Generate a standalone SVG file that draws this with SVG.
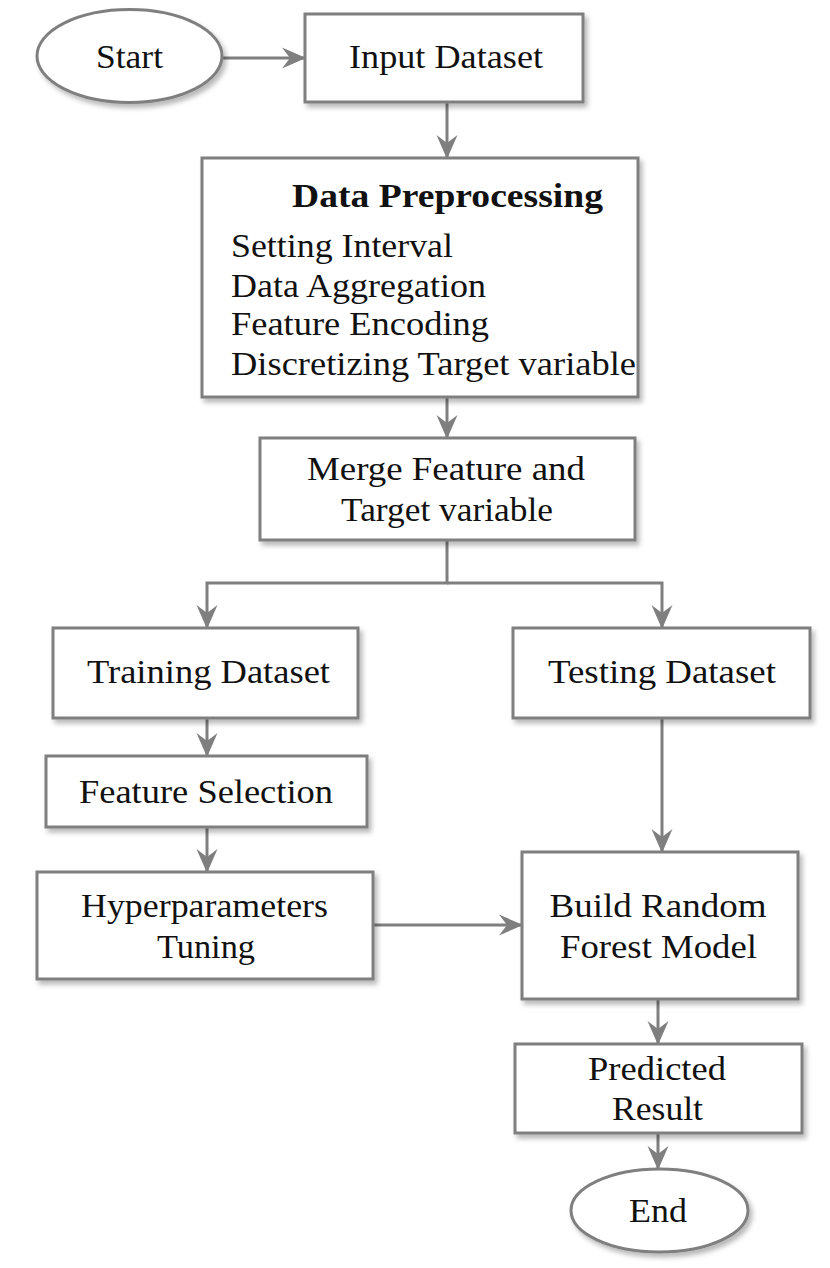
<svg xmlns="http://www.w3.org/2000/svg" width="830" height="1268" viewBox="0 0 830 1268">
<defs>
<filter id="sh" x="-10%" y="-10%" width="125%" height="130%">
<feDropShadow dx="3" dy="4" stdDeviation="2.5" flood-color="#000" flood-opacity="0.28"/>
</filter>
<marker id="ah" markerUnits="userSpaceOnUse" viewBox="0 0 24 24" refX="23" refY="12" markerWidth="24" markerHeight="24" orient="auto">
<path d="M0,1.5 L24,12 L0,22.5 L8,12 z" fill="#7f7f7f"/>
</marker>
<style>
.box{fill:#fff;stroke:#7f7f7f;stroke-width:3;filter:url(#sh)}
.t{font-family:"Liberation Serif","Times New Roman",serif;font-size:33px;fill:#111}
.c{text-anchor:middle}
.b{font-weight:bold}
.con{fill:none;stroke:#7f7f7f;stroke-width:3;marker-end:url(#ah)}
</style>
</defs>
<rect width="830" height="1268" fill="#fff"/>

<g id="connectors">
<path class="con" d="M222,58 H305"/>
<path class="con" d="M447,102 V158"/>
<path class="con" d="M447,397 V438"/>
<path class="con" d="M447,540 V583 H207 V628"/>
<path class="con" d="M447,583 H662 V628"/>
<path class="con" d="M207,718 V756"/>
<path class="con" d="M207,827 V872"/>
<path class="con" d="M373,925 H522"/>
<path class="con" d="M662,718 V852"/>
<path class="con" d="M658,999 V1044"/>
<path class="con" d="M658,1133 V1169"/>
</g>

<g id="start">
<ellipse class="box" cx="129.5" cy="56" rx="92.5" ry="46.5"/>
<text class="t c" x="129.5" y="68" textLength="67" lengthAdjust="spacingAndGlyphs">Start</text>
</g>

<g id="input-dataset">
<rect class="box" x="305" y="14" width="278" height="88"/>
<text class="t c" x="446" y="68" textLength="194" lengthAdjust="spacingAndGlyphs">Input Dataset</text>
</g>

<g id="data-preprocessing">
<rect class="box" x="202" y="158" width="436" height="239"/>
<text class="t c b" x="447.5" y="207" textLength="311" lengthAdjust="spacingAndGlyphs">Data Preprocessing</text>
<text class="t" x="231" y="257" textLength="222" lengthAdjust="spacingAndGlyphs">Setting  Interval</text>
<text class="t" x="231" y="297" textLength="255" lengthAdjust="spacingAndGlyphs">Data  Aggregation</text>
<text class="t" x="231" y="335" textLength="258" lengthAdjust="spacingAndGlyphs">Feature  Encoding</text>
<text class="t" x="231" y="375" textLength="405" lengthAdjust="spacingAndGlyphs">Discretizing  Target variable</text>
</g>

<g id="merge">
<rect class="box" x="260" y="438" width="375" height="102"/>
<text class="t c" x="446" y="480" textLength="278" lengthAdjust="spacingAndGlyphs">Merge  Feature  and</text>
<text class="t c" x="447" y="521" textLength="212" lengthAdjust="spacingAndGlyphs">Target variable</text>
</g>

<g id="training-dataset">
<rect class="box" x="53" y="628" width="305" height="90"/>
<text class="t c" x="208.5" y="683" textLength="243" lengthAdjust="spacingAndGlyphs">Training  Dataset</text>
</g>

<g id="testing-dataset">
<rect class="box" x="513" y="628" width="297" height="90"/>
<text class="t c" x="662" y="683" textLength="228" lengthAdjust="spacingAndGlyphs">Testing Dataset</text>
</g>

<g id="feature-selection">
<rect class="box" x="46" y="756" width="321" height="71"/>
<text class="t c" x="206" y="803" textLength="254" lengthAdjust="spacingAndGlyphs">Feature  Selection</text>
</g>

<g id="hyperparameters-tuning">
<rect class="box" x="37" y="872" width="336" height="107"/>
<text class="t c" x="204.5" y="917" textLength="247" lengthAdjust="spacingAndGlyphs">Hyperparameters</text>
<text class="t c" x="206" y="958" textLength="98" lengthAdjust="spacingAndGlyphs">Tuning</text>
</g>

<g id="build-model">
<rect class="box" x="522" y="852" width="276" height="147"/>
<text class="t c" x="658" y="917" textLength="217" lengthAdjust="spacingAndGlyphs">Build  Random</text>
<text class="t c" x="658.5" y="958" textLength="197" lengthAdjust="spacingAndGlyphs">Forest Model</text>
</g>

<g id="predicted-result">
<rect class="box" x="515" y="1044" width="287" height="89"/>
<text class="t c" x="657" y="1080" textLength="138" lengthAdjust="spacingAndGlyphs">Predicted</text>
<text class="t c" x="657.5" y="1120" textLength="91" lengthAdjust="spacingAndGlyphs">Result</text>
</g>

<g id="end">
<ellipse class="box" cx="659.5" cy="1210.5" rx="88.5" ry="41.5"/>
<text class="t c" x="658" y="1222" textLength="58" lengthAdjust="spacingAndGlyphs">End</text>
</g>
</svg>
